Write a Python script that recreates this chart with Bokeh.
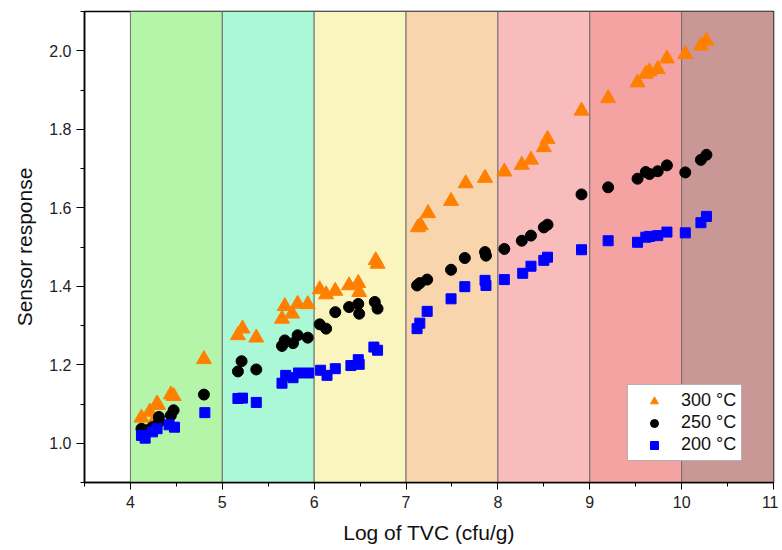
from bokeh.plotting import figure
from bokeh.models import FixedTicker, PrintfTickFormatter, Legend, LegendItem, Range1d
from bokeh.embed import file_html
from bokeh.resources import INLINE

# Background bands (log TVC intervals)
band_left = [4, 5, 6, 7, 8, 9, 10]
band_right = [5, 6, 7, 8, 9, 10, 11]
band_colors = ["#b4f5aa", "#aaf8d6", "#faf5be", "#f8d5ac", "#f8bcbc", "#f5a2a2", "#c99896"]

# 300 °C
x300 = [4.12, 4.21, 4.24, 4.29, 4.30, 4.44, 4.47, 4.80, 5.17, 5.22, 5.37, 5.65, 5.68, 5.76, 5.82,
        5.93, 6.06, 6.13, 6.23, 6.38, 6.48, 6.49, 6.67, 6.69, 7.13, 7.16, 7.24, 7.49, 7.65, 7.86,
        8.07, 8.26, 8.36, 8.50, 8.54, 8.91, 9.20, 9.52, 9.61, 9.65, 9.74, 9.84, 10.04, 10.21, 10.27]
y300 = [1.065, 1.080, 1.050, 1.101, 1.097, 1.124, 1.120, 1.214, 1.275, 1.292, 1.269, 1.317, 1.349,
        1.330, 1.355, 1.354, 1.392, 1.379, 1.388, 1.402, 1.408, 1.385, 1.466, 1.457, 1.550, 1.555,
        1.586, 1.617, 1.662, 1.676, 1.692, 1.709, 1.722, 1.754, 1.775, 1.847, 1.879, 1.919, 1.941,
        1.947, 1.953, 1.980, 1.991, 2.013, 2.025]

# 250 °C
x250 = [4.12, 4.18, 4.24, 4.31, 4.31, 4.44, 4.47, 4.80, 5.17, 5.21, 5.37, 5.65, 5.68, 5.77, 5.82,
        5.93, 6.06, 6.13, 6.23, 6.38, 6.48, 6.49, 6.66, 6.69, 7.12, 7.15, 7.23, 7.49, 7.64, 7.86,
        7.87, 8.07, 8.26, 8.36, 8.50, 8.54, 8.91, 9.20, 9.52, 9.61, 9.65, 9.74, 9.84, 10.04, 10.21,
        10.27]
y250 = [1.037, 1.033, 1.041, 1.067, 1.054, 1.071, 1.084, 1.124, 1.183, 1.209, 1.188, 1.248, 1.262,
        1.255, 1.275, 1.269, 1.303, 1.292, 1.334, 1.347, 1.355, 1.330, 1.360, 1.343, 1.402, 1.408,
        1.417, 1.442, 1.472, 1.487, 1.478, 1.495, 1.516, 1.529, 1.550, 1.557, 1.634, 1.652, 1.674,
        1.691, 1.686, 1.693, 1.708, 1.690, 1.722, 1.735]

# 200 °C
x200 = [4.12, 4.16, 4.24, 4.29, 4.42, 4.48, 4.81, 5.17, 5.22, 5.37, 5.65, 5.69, 5.77, 5.83, 5.94,
        6.07, 6.14, 6.23, 6.40, 6.48, 6.49, 6.65, 6.69, 7.12, 7.15, 7.23, 7.49, 7.64, 7.86, 7.87,
        8.07, 8.27, 8.36, 8.50, 8.54, 8.91, 9.20, 9.52, 9.61, 9.65, 9.74, 9.84, 10.04, 10.21, 10.27]
y200 = [1.020, 1.013, 1.029, 1.037, 1.047, 1.041, 1.078, 1.114, 1.115, 1.104, 1.153, 1.173, 1.167,
        1.179, 1.179, 1.186, 1.173, 1.190, 1.198, 1.213, 1.201, 1.245, 1.237, 1.292, 1.306, 1.336,
        1.368, 1.399, 1.415, 1.402, 1.417, 1.433, 1.451, 1.466, 1.474, 1.493, 1.516, 1.512, 1.525,
        1.527, 1.529, 1.538, 1.536, 1.562, 1.578]

x_ticks = [4, 5, 6, 7, 8, 9, 10, 11]
x_minor = [3.5, 4.5, 5.5, 6.5, 7.5, 8.5, 9.5, 10.5]
y_ticks = [1.0, 1.2, 1.4, 1.6, 1.8, 2.0]
y_minor = [0.9, 1.1, 1.3, 1.5, 1.7, 1.9, 2.1]

FONT = "Liberation Sans"

p = figure(width=778, height=546, output_backend="svg", toolbar_location=None,
           x_range=Range1d(3.5, 11), y_range=Range1d(0.9, 2.1),
           min_border_left=84, min_border_right=5, min_border_top=11, min_border_bottom=64)
p.background_fill_color = "white"
p.border_fill_color = "white"
p.grid.visible = False
p.outline_line_color = "black"
p.outline_line_width = 1.5

p.quad(left=band_left, right=band_right, bottom=0.9, top=2.1,
       fill_color=band_colors, line_color="#707070", line_width=1)

r300 = p.scatter(x300, y300, marker="triangle", size=15, fill_color="#ff8000", line_color="#ff8000")
r250 = p.scatter(x250, y250, marker="circle", size=11, fill_color="black", line_color="black")
r200 = p.scatter(x200, y200, marker="square", size=10, fill_color="#0000ff", line_color="#0000ff")

for ax in (p.xaxis[0], p.yaxis[0]):
    ax.axis_line_color = "black"
    ax.axis_line_width = 1.5
    ax.major_tick_line_color = "black"
    ax.minor_tick_line_color = "black"
    ax.major_tick_in = 0
    ax.minor_tick_in = 0
    ax.major_label_text_font = FONT
    ax.major_label_text_font_size = "16px"
    ax.major_label_text_color = "#222222"
    ax.axis_label_text_font = FONT
    ax.axis_label_text_font_size = "21px"
    ax.axis_label_text_font_style = "normal"
    ax.axis_label_text_color = "#111111"

p.xaxis[0].ticker = FixedTicker(ticks=x_ticks, minor_ticks=x_minor)
p.xaxis[0].formatter = PrintfTickFormatter(format="%d")
p.xaxis[0].major_tick_out = 7
p.xaxis[0].minor_tick_out = 4
p.xaxis[0].axis_label = "Log of TVC (cfu/g)"
p.xaxis[0].major_label_standoff = 6
p.xaxis[0].axis_label_standoff = 10

p.yaxis[0].ticker = FixedTicker(ticks=y_ticks, minor_ticks=y_minor)
p.yaxis[0].formatter = PrintfTickFormatter(format="%.1f")
p.yaxis[0].major_tick_out = 8
p.yaxis[0].minor_tick_out = 4
p.yaxis[0].axis_label = "Sensor response"
p.yaxis[0].major_label_standoff = 5
p.yaxis[0].axis_label_standoff = 10

legend = Legend(items=[LegendItem(label="300 °C", renderers=[r300]),
                       LegendItem(label="250 °C", renderers=[r250]),
                       LegendItem(label="200 °C", renderers=[r200])],
                location=(543, 21))
legend.label_text_font = FONT
legend.label_text_font_size = "18px"
legend.label_text_color = "#111111"
legend.border_line_color = "#666666"
legend.border_line_width = 1
legend.background_fill_color = "white"
legend.background_fill_alpha = 1
legend.padding = 5
legend.spacing = 1
legend.glyph_width = 42
legend.glyph_height = 20
legend.label_height = 20
legend.label_standoff = 6
legend.margin = 0
p.add_layout(legend, "center")

open("out.html", "w").write(file_html(p, INLINE))
